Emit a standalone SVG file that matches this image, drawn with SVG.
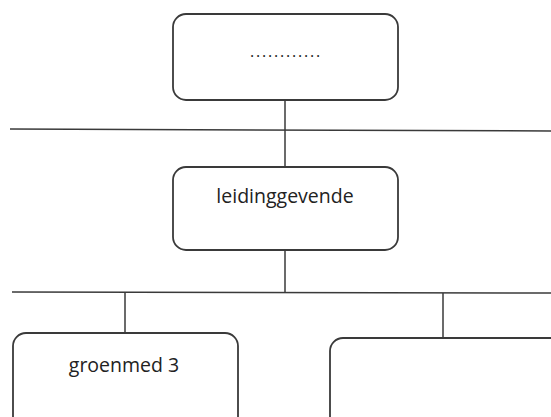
<svg xmlns="http://www.w3.org/2000/svg" width="551" height="417" viewBox="0 0 551 417">
<style>
.box{fill:#fff;stroke:#3a3a3a;stroke-width:1.8}
.ln{stroke:#3a3a3a;stroke-width:1.5;fill:none}
.t{font-family:"Open Sans","Liberation Sans",sans-serif;font-size:19.5px;fill:#222;text-anchor:middle}
</style>
<rect width="551" height="417" fill="#fff"/>
<g id="connectors">
<line class="ln" x1="10" y1="129" x2="551" y2="131"/>
<line class="ln" x1="285" y1="100" x2="285" y2="167"/>
<line class="ln" x1="12" y1="292" x2="551" y2="293"/>
<line class="ln" x1="285" y1="250" x2="285" y2="292"/>
<line class="ln" x1="125" y1="292" x2="125" y2="333"/>
<line class="ln" x1="443" y1="293" x2="443" y2="338"/>
</g>
<g id="top">
<rect class="box" x="173" y="14" width="225" height="86" rx="13"/>
<text class="t" x="286" y="57" style="font-size:16px;letter-spacing:1.8px">............</text>
</g>
<g id="leidinggevende">
<rect class="box" x="173" y="167" width="225" height="83" rx="13"/>
<text class="t" x="285" y="203">leidinggevende</text>
</g>
<g id="groenmed3">
<rect class="box" x="13" y="333" width="225" height="100" rx="13"/>
<text class="t" x="124" y="372">groenmed 3</text>
</g>
<g id="empty">
<rect class="box" x="330" y="338" width="240" height="100" rx="13"/>
</g>
</svg>
